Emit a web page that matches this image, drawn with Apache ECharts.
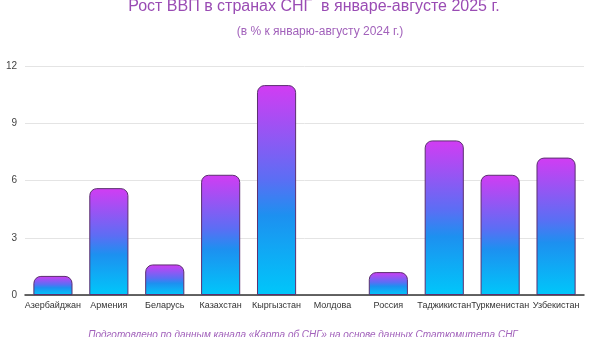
<!DOCTYPE html>
<html>
<head>
<meta charset="utf-8">
<script src="https://cdn.jsdelivr.net/npm/echarts@6/dist/echarts.min.js"></script>
<style>
  html, body { margin: 0; padding: 0; background: #fff; }
  #chart { width: 600px; height: 337px; }
</style>
</head>
<body>
<div id="chart"></div>
<script>
const countries = ['Азербайджан', 'Армения', 'Беларусь', 'Казахстан', 'Кыргызстан',
  'Молдова', 'Россия', 'Таджикистан', 'Туркменистан', 'Узбекистан'];
const gdpGrowth = [1.0, 5.6, 1.6, 6.3, 11.0, 0, 1.2, 8.1, 6.3, 7.2];
const yTicks = [0, 3, 6, 9, 12];

const chart = echarts.init(document.getElementById('chart'));

const barColor = new echarts.graphic.LinearGradient(0, 0, 0, 1, [
  { offset: 0, color: '#d23cf3' },
  { offset: 0.45, color: '#5b6ef4' },
  { offset: 0.62, color: '#1d90f0' },
  { offset: 1, color: '#00c7fa' },
]);

const option = {
  backgroundColor: '#fff',
  animation: false,
  graphic: [
    {
      type: 'text',
      x: 314,
      y: -1,
      style: {
        text: 'Рост ВВП в странах СНГ  в январе-августе 2025 г.',
        textAlign: 'center',
        fill: '#9a4cb4',
        font: '16px "Liberation Sans", sans-serif',
      },
    },
    {
      type: 'text',
      x: 320,
      y: 26,
      style: {
        text: '(в % к январю-августу 2024 г.)',
        textAlign: 'center',
        fill: '#a262bb',
        font: '12px "Liberation Sans", sans-serif',
      },
    },
    {
      type: 'text',
      x: 303,
      y: 330,
      style: {
        text: 'Подготовлено по данным канала «Карта об СНГ» на основе данных Статкомитета СНГ',
        textAlign: 'center',
        fill: '#a262bb',
        font: 'italic 10px "Liberation Sans", sans-serif',
      },
    },
  ],
  grid: {
    left: 25,
    right: 16,
    top: 66,
    bottom: 42,
  },
  xAxis: {
    type: 'category',
    data: countries,
    axisTick: { show: false },
    axisLine: { show: true, lineStyle: { color: '#333', width: 1.5 } },
    axisLabel: { color: '#333', fontSize: 9, margin: 6, interval: 0 },
  },
  yAxis: {
    type: 'value',
    min: yTicks[0],
    max: yTicks[yTicks.length - 1],
    interval: 3,
    axisLine: { show: false },
    axisTick: { show: false },
    axisLabel: { color: '#444', fontSize: 10, margin: 8 },
    splitLine: { lineStyle: { color: '#e4e4e4' } },
  },
  series: [
    {
      type: 'bar',
      data: gdpGrowth.map(v => ({
        value: v,
        itemStyle: v === 0 ? { borderWidth: 0 } : undefined,
      })),
      barWidth: '70%',
      itemStyle: {
        color: barColor,
        borderColor: '#5b2f70',
        borderWidth: 1,
        borderRadius: [7, 7, 0, 0],
      },
    },
  ],
};

chart.setOption(option);
</script>
</body>
</html>
